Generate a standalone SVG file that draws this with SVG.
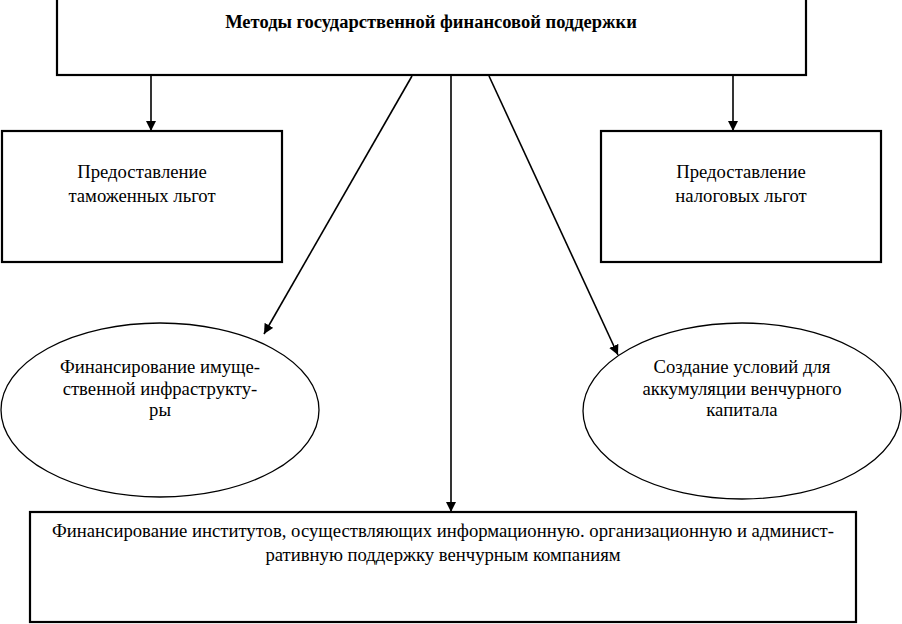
<svg xmlns="http://www.w3.org/2000/svg" width="902" height="624" viewBox="0 0 902 624">
<style>
.box{fill:#fff;stroke:#000;stroke-width:2.2}
.ell{fill:#fff;stroke:#000;stroke-width:1.3}
.t{font-family:"Liberation Serif","Times New Roman",serif;font-size:18.7px;text-anchor:middle;fill:#000}
.h{font-weight:bold;font-size:18.5px}
.c{stroke:#000;stroke-width:1.6;fill:none}
</style>
<defs>
<marker id="ah" viewBox="0 0 10 10" refX="10" refY="5" markerWidth="10" markerHeight="10" markerUnits="userSpaceOnUse" orient="auto">
<path d="M0,0 L10,5 L0,10 z" fill="#000"/>
</marker>
</defs>
<g id="connectors">
<line class="c" x1="151" y1="76" x2="151" y2="131" marker-end="url(#ah)"/>
<line class="c" x1="733" y1="76" x2="733" y2="131" marker-end="url(#ah)"/>
<line class="c" x1="412" y1="76" x2="264" y2="334" marker-end="url(#ah)"/>
<line class="c" x1="451" y1="76" x2="451" y2="512" marker-end="url(#ah)"/>
<line class="c" x1="489" y1="76" x2="618" y2="355" marker-end="url(#ah)"/>
</g>
<g id="top">
<rect class="box" x="57" y="-2" width="749" height="77"/>
<text class="t h" x="431" y="28">Методы государственной финансовой поддержки</text>
</g>
<g id="customs">
<rect class="box" x="2" y="131" width="280" height="131"/>
<text class="t" x="142" y="178">Предоставление</text>
<text class="t" x="142" y="202">таможенных льгот</text>
</g>
<g id="tax">
<rect class="box" x="601" y="131" width="280" height="131"/>
<text class="t" x="741" y="178">Предоставление</text>
<text class="t" x="741" y="202">налоговых льгот</text>
</g>
<g id="infra">
<ellipse class="ell" cx="160" cy="410" rx="159" ry="87"/>
<text class="t" x="160" y="373">Финансирование имуще-</text>
<text class="t" x="160" y="395">ственной инфраструкту-</text>
<text class="t" x="160" y="416">ры</text>
</g>
<g id="venture">
<ellipse class="ell" cx="742" cy="411" rx="159" ry="88"/>
<text class="t" x="742" y="373">Создание условий для</text>
<text class="t" x="742" y="395">аккумуляции венчурного</text>
<text class="t" x="742" y="416">капитала</text>
</g>
<g id="institutes">
<rect class="box" x="30" y="512" width="826" height="110"/>
<text class="t" x="443" y="537">Финансирование институтов, осуществляющих информационную. организационную и админист-</text>
<text class="t" x="443" y="561">ративную поддержку венчурным компаниям</text>
</g>
</svg>
